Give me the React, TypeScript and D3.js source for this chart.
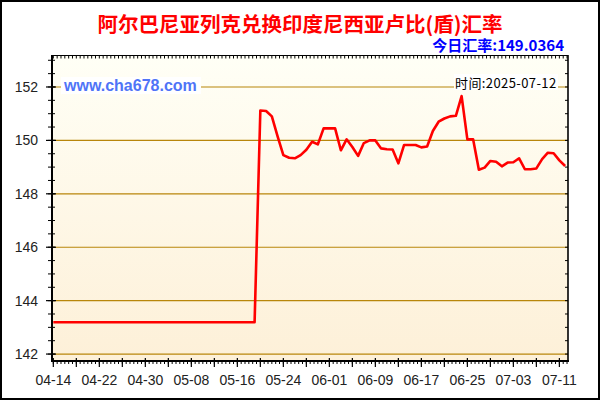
import React from "react";
import * as d3 from "d3";

const TITLE = "阿尔巴尼亚列克兑换印度尼西亚卢比(盾)汇率";
const TODAY_LABEL = "今日汇率:149.0364";
const TIME_LABEL = "时间:2025-07-12";
const SITE_LABEL = "www.cha678.com";

const START = "2025-04-14";
const values: number[] = [
  143.19, 143.19, 143.19, 143.19, 143.19, 143.19, 143.19, 143.19, 143.19, 143.19,
  143.19, 143.19, 143.19, 143.19, 143.19, 143.19, 143.19, 143.19, 143.19, 143.19,
  143.19, 143.19, 143.19, 143.19, 143.19, 143.19, 143.19, 143.19, 143.19, 143.19,
  143.19, 143.19, 143.19, 143.19, 143.19, 143.19,
  151.12, 151.1, 150.9, 150.15, 149.45, 149.35, 149.33, 149.45, 149.65, 149.95,
  149.85, 150.45, 150.45, 150.45, 149.63, 150.04, 149.75, 149.42, 149.9, 150.0,
  150.0, 149.7, 149.67, 149.66, 149.14, 149.83, 149.83, 149.83, 149.74, 149.77,
  150.35, 150.7, 150.82, 150.9, 150.92, 151.66, 150.04, 150.04, 148.9, 148.98,
  149.23, 149.2, 149.03, 149.17, 149.18, 149.33, 148.92, 148.92, 148.95, 149.3,
  149.54, 149.52, 149.25, 149.04,
];
const yTicks = [142, 144, 146, 148, 150, 152];
const xLabels = ["04-14", "04-22", "04-30", "05-08", "05-16", "05-24", "06-01", "06-09", "06-17", "06-25", "07-03", "07-11"];

const DAY = 864e5;

export default function App() {
  const start = new Date(START + "T00:00:00Z").getTime();
  const dates = values.map((_, i) => new Date(start + i * DAY));
  const L = 52, R = 568, T = 56, B = 361;
  const x = d3.scaleUtc().domain([new Date(start - 0.23 * DAY), new Date(start + 89.5 * DAY)]).range([L, R]);
  const y = d3.scaleLinear().domain([141.74, 153.16]).range([B, T]);

  const line = d3.line<number>().x((_, i) => x(dates[i])).y((v) => y(v));
  const path = line(values) || "";

  const minorX: number[] = [];
  for (let k = 0; k * (2 / 3) <= 89.5; k++) minorX.push(x(new Date(start + k * (2 / 3) * DAY)));
  const majorX: number[] = [];
  for (let d = 0; d <= 89; d += 4) majorX.push(x(new Date(start + d * DAY)));
  const labelX = xLabels.map((_, i) => x(new Date(start + i * 8 * DAY)));
  const minorY: number[] = [];
  for (let v = 142; v <= 153.01; v += 0.5) minorY.push(y(v));

  const axisFont = "'Liberation Sans', Arial, sans-serif";
  const cjkFont = "'Noto Sans CJK SC', 'Liberation Sans', sans-serif";

  return (
    <svg width={600} height={400} style={{ position: "absolute", left: 0, top: 0, background: "#fff" }}>
      <defs>
        <linearGradient id="bg" x1="0" y1="0" x2="0" y2="1">
          <stop offset="0" stopColor="#fffff6" />
          <stop offset="1" stopColor="#fdf0d8" />
        </linearGradient>
      </defs>
      <rect x={0} y={0} width={600} height={400} fill="#fff" />
      <rect x={1} y={1} width={598} height={398} fill="none" stroke="#000" strokeWidth={2} />
      <text x={300} y={23} textAnchor="middle" dominantBaseline="central" fontFamily={cjkFont} fontWeight="bold" fontSize={20.5} fill="#ff0000">
        {TITLE}
      </text>
      <text x={564} y={44} textAnchor="end" dominantBaseline="central" fontFamily={cjkFont} fontWeight="bold" fontSize={15} fill="#0000ff">
        {TODAY_LABEL}
      </text>
      <rect x={L} y={T} width={R - L} height={B - T} fill="url(#bg)" />
      {yTicks.map((v) => (
        <line key={"g" + v} x1={L} x2={R} y1={y(v)} y2={y(v)} stroke="#b8860b" strokeWidth={1.2} />
      ))}
      <rect x={61} y={77} width={140} height={17} fill="#fff" />
      <text x={64} y={85.5} dominantBaseline="central" fontFamily={axisFont} fontWeight="bold" fontSize={16} fill="#4f74f7">
        {SITE_LABEL}
      </text>
      <rect x={454} y={74} width={104} height={16} fill="#fff" />
      <text x={455} y={82} dominantBaseline="central" fontFamily={cjkFont} fontSize={13} letterSpacing={0.4} fill="#000">
        {TIME_LABEL}
      </text>
      <path d={path} fill="none" stroke="#ff0000" strokeWidth={2.6} strokeLinejoin="round" />
      {/* frame */}
      <line x1={L} x2={R} y1={T - 0.5} y2={T - 0.5} stroke="#000" strokeWidth={1.2} />
      <line x1={R} x2={R} y1={T - 1} y2={B} stroke="#000" strokeWidth={1.6} />
      <line x1={L} x2={L} y1={T - 1} y2={B + 1} stroke="#000" strokeWidth={2} />
      <line x1={L - 1} x2={R + 1} y1={B} y2={B} stroke="#000" strokeWidth={2} />
      {minorX.map((px, i) => (
        <g key={"mx" + i}>
          <line x1={px} x2={px} y1={T} y2={T + 2.5} stroke="#000" strokeWidth={1} />
          <line x1={px} x2={px} y1={B - 1} y2={B + 3} stroke="#000" strokeWidth={1} />
        </g>
      ))}
      {majorX.map((px, i) => (
        <line key={"Mx" + i} x1={px} x2={px} y1={B - 3} y2={B + 6} stroke="#000" strokeWidth={1.2} />
      ))}
      {minorY.map((py, i) => (
        <g key={"my" + i}>
          <line x1={L - 4} x2={L + 3} y1={py} y2={py} stroke="#000" strokeWidth={1} />
          <line x1={R - 3} x2={R} y1={py} y2={py} stroke="#000" strokeWidth={1} />
        </g>
      ))}
      {yTicks.map((v) => (
        <g key={"yt" + v}>
          <line x1={L - 6} x2={L + 4} y1={y(v)} y2={y(v)} stroke="#000" strokeWidth={1.2} />
          <text x={38} y={y(v)} textAnchor="end" dominantBaseline="central" fontFamily={axisFont} fontSize={14} fill="#222">
            {v}
          </text>
        </g>
      ))}
      {xLabels.map((lab, i) => (
        <text key={lab} x={labelX[i]} y={380} textAnchor="middle" dominantBaseline="central" fontFamily={axisFont} fontSize={14} fill="#222">
          {lab}
        </text>
      ))}
    </svg>
  );
}
